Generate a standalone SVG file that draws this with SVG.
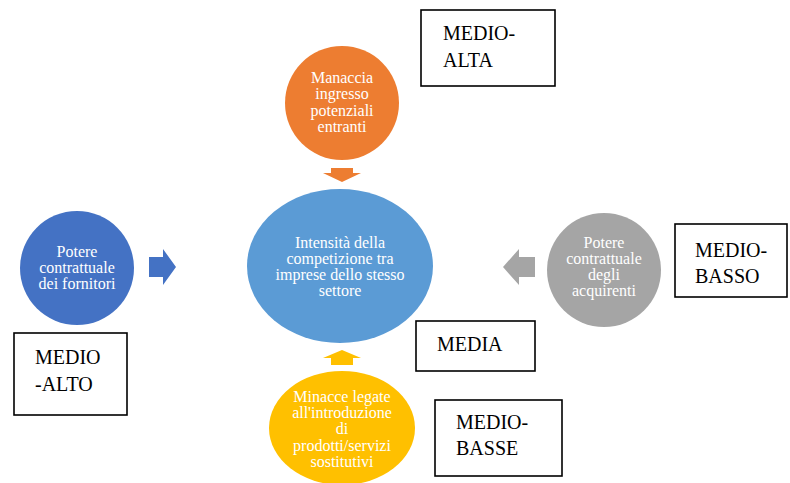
<svg xmlns="http://www.w3.org/2000/svg" width="790" height="483" viewBox="0 0 790 483">
<style>
.t{font-family:"Liberation Serif","Times New Roman",serif;font-size:16px;fill:#ffffff;text-anchor:middle}
.b{font-family:"Liberation Serif","Times New Roman",serif;font-size:20px;fill:#000000}
.box{fill:#ffffff;stroke:#000000;stroke-width:1.6}
</style>
<rect width="790" height="483" fill="#ffffff"/>
<g id="connectors">
<polygon points="331,168 353,168 353,173 361,173 342,182 323,173 331,173" fill="#ED7D31"/>
<polygon points="149,257 163,257 163,249 176,267 163,285 163,277 149,277" fill="#4472C4"/>
<polygon points="535,257 519,257 519,249 503,267 519,285 519,277 535,277" fill="#A5A5A5"/>
<polygon points="331,365 353,365 353,358 361,358 342,350 323,358 331,358" fill="#FFC000"/>
</g>
<g id="node-center">
<ellipse cx="340" cy="266" rx="93" ry="77" fill="#5B9BD5"/>
<text class="t" x="340" y="247.5">Intensità della</text>
<text class="t" x="340" y="263.5">competizione tra</text>
<text class="t" x="340" y="280">imprese dello stesso</text>
<text class="t" x="340" y="296">settore</text>
</g>
<g id="node-entranti">
<circle cx="342" cy="103" r="57" fill="#ED7D31"/>
<text class="t" x="342" y="83">Manaccia</text>
<text class="t" x="342" y="99">ingresso</text>
<text class="t" x="342" y="116">potenziali</text>
<text class="t" x="342" y="132">entranti</text>
</g>
<g id="node-fornitori">
<circle cx="77" cy="268" r="57" fill="#4472C4"/>
<text class="t" x="77" y="257">Potere</text>
<text class="t" x="77" y="273">contrattuale</text>
<text class="t" x="77" y="289">dei fornitori</text>
</g>
<g id="node-acquirenti">
<circle cx="604" cy="270" r="57" fill="#A5A5A5"/>
<text class="t" x="604" y="248">Potere</text>
<text class="t" x="604" y="264">contrattuale</text>
<text class="t" x="604" y="280">degli</text>
<text class="t" x="604" y="296">acquirenti</text>
</g>
<g id="node-sostitutivi">
<ellipse cx="342" cy="428" rx="73" ry="57" fill="#FFC000"/>
<text class="t" x="342" y="402">Minacce legate</text>
<text class="t" x="342" y="418">all'introduzione</text>
<text class="t" x="342" y="434">di</text>
<text class="t" x="342" y="451">prodotti/servizi</text>
<text class="t" x="342" y="467">sostitutivi</text>
</g>
<g id="box-medio-alta">
<rect class="box" x="421" y="10" width="134" height="76"/>
<text class="b" x="443" y="39.5">MEDIO-</text>
<text class="b" x="443" y="67">ALTA</text>
</g>
<g id="box-medio-alto">
<rect class="box" x="14" y="333" width="113" height="82"/>
<text class="b" x="35" y="364">MEDIO</text>
<text class="b" x="35" y="391">-ALTO</text>
</g>
<g id="box-medio-basso">
<rect class="box" x="675" y="224" width="112" height="73"/>
<text class="b" x="695" y="257">MEDIO-</text>
<text class="b" x="695" y="283">BASSO</text>
</g>
<g id="box-media">
<rect class="box" x="416" y="321" width="119" height="50"/>
<text class="b" x="437" y="350.5">MEDIA</text>
</g>
<g id="box-medio-basse">
<rect class="box" x="435" y="400" width="127" height="76"/>
<text class="b" x="456" y="429">MEDIO-</text>
<text class="b" x="456" y="455">BASSE</text>
</g>
</svg>
